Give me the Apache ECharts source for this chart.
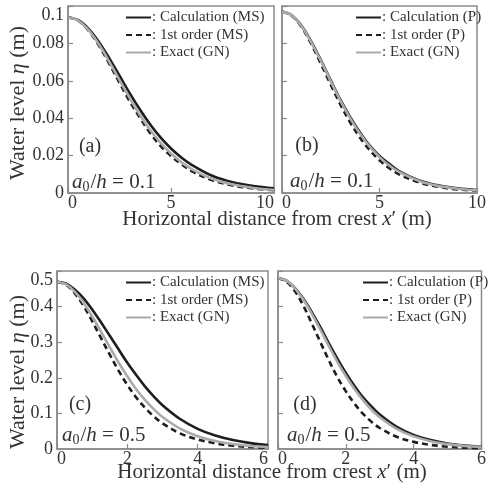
<!DOCTYPE html>
<html><head><meta charset="utf-8">
<script src="https://cdn.jsdelivr.net/npm/echarts@6/dist/echarts.min.js"></script>
<style>html,body{margin:0;padding:0;background:#fff}#c{width:489px;height:490px}</style>
</head><body><div id="c"></div>
<script>
// ---- data ----
const xTop = [0,0.5,1,1.5,2,2.5,3,3.5,4,4.5,5,5.5,6,7,8,9,10];
const aCalc  = [0.094,0.0924,0.0878,0.0808,0.0721,0.0627,0.0533,0.0445,0.0365,0.0296,0.0238,0.0190,0.0151,0.0092,0.0057,0.0037,0.0025];
const aFirst = [0.094,0.0921,0.0868,0.0788,0.0692,0.0589,0.0489,0.0401,0.0318,0.0251,0.0198,0.0154,0.0117,0.0068,0.0040,0.0024,0.0015];
const aExact = [0.094,0.0922,0.0871,0.0795,0.0703,0.0604,0.0507,0.0416,0.0336,0.0268,0.0211,0.0165,0.0128,0.0076,0.0045,0.0027,0.0017];
const bCalc  = [0.097,0.0950,0.0894,0.0810,0.0709,0.0602,0.0498,0.0406,0.0324,0.0253,0.0198,0.0156,0.0117,0.0069,0.0041,0.0025,0.0016];
const bFirst = [0.097,0.0948,0.0888,0.0797,0.0690,0.0579,0.0472,0.0377,0.0296,0.0229,0.0175,0.0133,0.0100,0.0057,0.0033,0.0019,0.0012];
const bExact = [0.097,0.0950,0.0892,0.0806,0.0705,0.0597,0.0493,0.0399,0.0317,0.0248,0.0192,0.0147,0.0113,0.0066,0.0038,0.0023,0.0014];

const xBot = [0,0.25,0.5,0.75,1,1.25,1.5,1.75,2,2.25,2.5,2.75,3,3.5,4,4.5,5,5.5,6];
const cCalc  = [0.470,0.465,0.448,0.424,0.392,0.356,0.318,0.280,0.242,0.208,0.176,0.148,0.123,0.0842,0.0567,0.0378,0.0252,0.0165,0.0108];
const cFirst = [0.470,0.462,0.438,0.403,0.359,0.312,0.265,0.220,0.180,0.145,0.116,0.092,0.0721,0.0440,0.0268,0.0158,0.0094,0.0056,0.0033];
const cExact = [0.470,0.463,0.442,0.411,0.373,0.330,0.286,0.243,0.204,0.168,0.138,0.112,0.0899,0.0573,0.0360,0.0223,0.0140,0.0086,0.0053];
const dCalc  = [0.480,0.473,0.452,0.422,0.384,0.342,0.297,0.254,0.214,0.178,0.146,0.120,0.0969,0.0624,0.0397,0.0252,0.0156,0.0098,0.0061];
const dFirst = [0.480,0.470,0.443,0.402,0.352,0.300,0.249,0.202,0.162,0.128,0.0995,0.0769,0.0590,0.0343,0.0200,0.0114,0.0065,0.0037,0.0021];
const dExact = [0.480,0.473,0.451,0.419,0.379,0.335,0.289,0.245,0.205,0.169,0.138,0.111,0.0893,0.0566,0.0354,0.0220,0.0136,0.0084,0.0051];

const namesMS = ['Calculation (MS)','1st order (MS)','Exact (GN)'];
const namesP  = ['Calculation (P)','1st order (P)','Exact (GN)'];
const panelLabels = ['(a)','(b)','(c)','(d)'];
const ratioLabels = ['0.1','0.1','0.5','0.5'];
const yTitle = 'Water level ';
const xTitle = 'Horizontal distance from crest ';

// ---- styling ----
const FONT = 'Liberation Serif';
const TXT = '#333';
const FRAME = '#8a8a8a';
const grids = [
  {left:68, top:6, width:206, height:187},
  {left:282, top:6, width:206, height:187},
  {left:57, top:271, width:211, height:178},
  {left:278, top:271, width:210, height:178}
];
const xRange = [[0,10,5],[0,10,5],[0,6,2],[0,6,2]];
const yRange = [[0,0.1,0.02],[0,0.1,0.02],[0,0.5,0.1],[0,0.5,0.1]];

const chart = echarts.init(document.getElementById('c'), null, {renderer:'canvas'});

const option = {
  animation:false,
  backgroundColor:'#fff',
  grid: grids.map(g=>Object.assign({show:true, borderColor:FRAME, borderWidth:1.5, backgroundColor:'transparent'}, g)),
  xAxis: grids.map((g,i)=>({
    type:'value', gridIndex:i, min:xRange[i][0], max:xRange[i][1], interval:xRange[i][2],
    axisLine:{show:true, lineStyle:{color:FRAME, width:1.5}},
    axisTick:{show:true, inside:true, length:5, lineStyle:{color:FRAME, width:1.2}},
    splitLine:{show:false},
    axisLabel:{show:true, color:TXT, fontFamily:FONT, fontSize:18, margin:1,
      alignMinLabel:'left', alignMaxLabel:(i%2===0)?'right':'center'}
  })),
  yAxis: grids.map((g,i)=>({
    type:'value', gridIndex:i, min:yRange[i][0], max:yRange[i][1], interval:yRange[i][2],
    axisLine:{show:true, lineStyle:{color:FRAME, width:1.5}},
    axisTick:{show:true, inside:true, length:5, lineStyle:{color:FRAME, width:1.2}},
    splitLine:{show:false},
    axisLabel:{show:i%2===0, color:TXT, fontFamily:FONT, fontSize:18, margin:4,
      verticalAlignMaxLabel:'top'}
  })),
  legend: [
    {data:namesMS, left:125, top:10},
    {data:namesP, left:355, top:10},
    {data:namesMS, left:125, top:275},
    {data:namesP, left:362, top:275}
  ].map(l=>Object.assign({
    orient:'vertical', itemWidth:25, itemHeight:14, itemGap:2.5, padding:0,
    formatter:': {name}', selectedMode:false,
    itemStyle:{opacity:0},
    lineStyle:{opacity:1},
    textStyle:{fontFamily:FONT, fontSize:15, color:TXT, padding:[0,0,0,-4]}
  }, l)),
  series: [],
  graphic: []
};

function addPanel(i, xs, calc, first, exact, names){
  const mk = arr => xs.map((x,j)=>[x, arr[j]]);
  const base = {type:'line', xAxisIndex:i, yAxisIndex:i, showSymbol:false, symbol:'none', smooth:0.35};
  option.series.push(
    Object.assign({name:names[0], data:mk(calc),
      lineStyle:{color:'#1e1e1e', width:2.6, type:'solid'}, itemStyle:{color:'#1e1e1e'}, z:3}, base),
    Object.assign({name:names[1], data:mk(first),
      lineStyle:{color:'#1e1e1e', width:2.6, type:[6,4]}, itemStyle:{color:'#1e1e1e'}, z:2}, base),
    Object.assign({name:names[2], data:mk(exact),
      lineStyle:{color:'#ababab', width:2.6, type:'solid'}, itemStyle:{color:'#ababab'}, z:4}, base)
  );
}
addPanel(0, xTop, aCalc, aFirst, aExact, namesMS);
addPanel(1, xTop, bCalc, bFirst, bExact, namesP);
addPanel(2, xBot, cCalc, cFirst, cExact, namesMS);
addPanel(3, xBot, dCalc, dFirst, dExact, namesP);

const txt = (x,y,text,size) => ({type:'text', x, y, silent:true, z:100, style:{
  text, fill:TXT, fontFamily:FONT, fontSize:size, align:'center', verticalAlign:'middle',
  rich:{i:{fontStyle:'italic', fontFamily:FONT, fontSize:size, fill:TXT}}
}});

// axis titles
option.graphic.push(Object.assign(txt(18,103, yTitle+'{i|η} (m)', 22), {rotation:Math.PI/2}));
option.graphic.push(Object.assign(txt(18,372, yTitle+'{i|η} (m)', 22), {rotation:Math.PI/2}));
option.graphic.push(txt(277,219, xTitle+'{i|x}′ (m)', 21));
option.graphic.push(txt(272,472, xTitle+'{i|x}′ (m)', 21));
// panel labels
const plPos = [[90,147],[307,146],[80,405],[305,405]];
panelLabels.forEach((t,i)=>option.graphic.push(txt(plPos[i][0], plPos[i][1], t, 20)));
// a0/h annotations
const raPos = [[72,182],[290,181],[62,435],[287,435]];
ratioLabels.forEach((v,i)=>{
  option.graphic.push({type:'text', x:raPos[i][0], y:raPos[i][1], silent:true, z:100, style:{
    text:'{i|a}{s|0}{t|/}{i|h}{t| = '+v+'}', align:'left', verticalAlign:'middle',
    fontFamily:FONT, fontSize:21, fill:TXT,
    rich:{
      i:{fontStyle:'italic', fontFamily:FONT, fontSize:21, fill:TXT, lineHeight:24, verticalAlign:'middle'},
      t:{fontFamily:FONT, fontSize:21, fill:TXT, lineHeight:24, verticalAlign:'middle'},
      s:{fontFamily:FONT, fontSize:14, fill:TXT, lineHeight:24, verticalAlign:'bottom', padding:[0,1,0,0]}
    }
  }});
});

chart.setOption(option);
</script></body></html>
